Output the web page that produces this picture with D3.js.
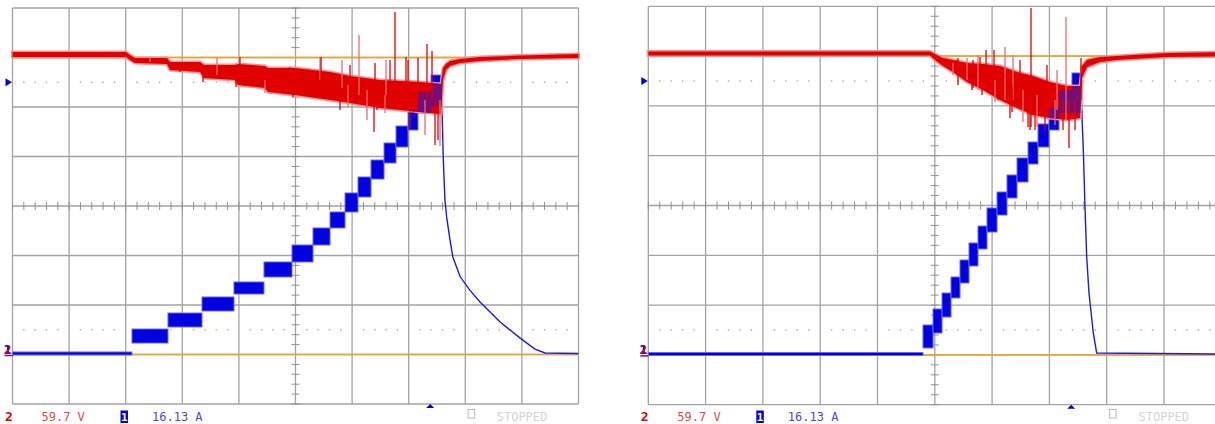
<!DOCTYPE html>
<html>
<head>
<meta charset="utf-8">
<script src="https://cdn.jsdelivr.net/npm/d3@7"></script>
<style>
  body { margin: 0; background: #fff; }
  svg { display: block; }
</style>
</head>
<body>
<div id="scope"></div>
<script>
// all values in screen divisions: x 0..10, y -4..4 (0 = centre line)

// ---- left capture ----
// channel 2 (voltage) noise band
const leftRedX  = [0, 2.005, 2.076, 2.164, 2.730, 2.783, 3.313, 3.383, 3.931, 3.984, 4.461, 4.514, 4.991, 5.610, 5.963, 6.493, 7.200, 7.571, 7.606, 7.659, 7.730, 7.906, 8.260, 8.966, 10];
const leftRedHi = [3.111, 3.111, 3.051, 2.990, 2.990, 2.909, 2.909, 2.848, 2.848, 2.869, 2.828, 2.788, 2.788, 2.707, 2.626, 2.545, 2.505, 2.465, 2.788, 2.869, 2.929, 2.970, 3.010, 3.040, 3.071];
const leftRedLo = [3.010, 3.010, 2.949, 2.889, 2.869, 2.747, 2.707, 2.586, 2.545, 2.444, 2.384, 2.303, 2.242, 2.141, 2.081, 1.980, 1.899, 1.859, 2.545, 2.747, 2.828, 2.889, 2.929, 2.970, 2.990];
// spikes on the voltage trace
const leftSpikeX  = [6.758, 6.122, 7.323, 7.412, 5.433, 4.019, 5.963, 6.599, 7.164, 6.387, 6.263, 7.465, 7.518, 7.553, 3.366, 3.949, 4.461, 4.956, 7.023, 7.288, 5.786,
                     5.451, 5.822, 6.405, 6.952, 5.928, 6.440, 7.076, 6.581, 6.670, 6.988, 3.613, 4.903, 2.959, 2.429];
const leftSpikeHi = [3.919, 3.455, 3.273, 3.131, 3.010, 3.010, 2.848, 2.949, 2.990, 2.444, 2.343, 2.141, 2.141, 2.141, 2.747, 2.646, 2.545, 2.444, 2.141, 2.141, 2.343,
                     3.010, 2.949, 2.889, 3.010, 2.444, 2.343, 2.242, 2.242, 2.949, 2.949, 2.990, 2.808, 2.909, 3.010];
const leftSpikeLo = [2.141, 2.242, 2.141, 2.141, 2.545, 2.707, 2.343, 2.242, 2.141, 1.495, 1.737, 1.232, 1.333, 1.212, 2.505, 2.404, 2.283, 2.202, 1.535, 1.434, 1.939,
                     2.444, 2.384, 2.242, 2.141, 2.000, 1.939, 1.879, 1.879, 2.242, 2.141, 2.646, 2.343, 2.707, 2.909];
// channel 1 (current) staircase
const leftStepX0 = [0, 2.111, 2.747, 3.348, 3.913, 4.443, 4.938, 5.309, 5.610, 5.875, 6.104, 6.334, 6.564, 6.776, 6.988, 7.164, 7.394];
const leftStepX1 = [2.111, 2.747, 3.348, 3.913, 4.443, 4.938, 5.309, 5.610, 5.875, 6.104, 6.334, 6.564, 6.776, 6.988, 7.164, 7.394, 7.588];
const leftStepLo = [-3.010, -2.768, -2.444, -2.121, -1.778, -1.434, -1.131, -0.788, -0.444, -0.121, 0.182, 0.545, 0.869, 1.192, 1.535, 1.879, 2.000];
const leftStepHi = [-2.949, -2.485, -2.162, -1.838, -1.535, -1.131, -0.788, -0.444, -0.121, 0.263, 0.586, 0.929, 1.273, 1.616, 1.939, 2.303, 2.646];
// current decay after switch-off
const leftTailX = [7.588, 7.61, 7.64, 7.67, 7.73, 7.78, 7.91, 8.08, 8.26, 8.61, 8.97, 9.23, 9.41, 10];
const leftTailY = [2.00, 0.99, 0.12, -0.22, -0.69, -1.03, -1.43, -1.70, -1.94, -2.34, -2.67, -2.89, -2.97, -2.98];

// ---- right capture ----
const rightRedX  = [0, 4.916, 5.003, 5.143, 5.318, 5.562, 5.841, 6.138, 6.435, 6.714, 7.010, 7.307, 7.534, 7.569, 7.656, 7.883, 8.180, 8.459, 9.052, 10];
const rightRedHi = [3.092, 3.092, 3.042, 2.962, 2.922, 2.861, 2.841, 2.801, 2.681, 2.600, 2.480, 2.400, 2.400, 2.801, 2.922, 2.982, 3.002, 3.022, 3.062, 3.082];
const rightRedLo = [3.012, 3.012, 2.922, 2.801, 2.681, 2.480, 2.319, 2.118, 1.958, 1.817, 1.757, 1.717, 1.757, 2.560, 2.781, 2.882, 2.922, 2.942, 2.982, 2.992];
const rightSpikeX  = [6.679, 7.290, 5.894, 6.033, 6.225, 5.789, 7.551, 5.562, 5.387, 7.342, 6.539, 6.749, 6.923, 7.098, 7.447, 6.312,
                      6.365, 6.487, 6.958, 7.133, 6.103, 6.627, 6.783, 7.237, 6.661, 5.318, 5.405, 5.667, 5.754, 5.649, 5.824, 6.051, 6.347];
const rightSpikeHi = [3.966, 3.785, 3.122, 3.122, 3.183, 2.982, 2.962, 2.962, 2.922, 2.118, 2.319, 2.219, 2.219, 2.118, 2.118, 2.420,
                      3.022, 2.922, 2.821, 2.721, 2.620, 2.219, 2.219, 2.118, 2.219, 2.861, 2.962, 2.922, 3.022, 2.721, 2.620, 2.520, 2.420];
const rightSpikeLo = [1.576, 1.717, 2.319, 2.219, 2.118, 2.420, 2.118, 2.520, 2.621, 1.155, 1.677, 1.516, 1.516, 1.616, 1.516, 1.757,
                      2.118, 2.118, 1.918, 1.918, 2.118, 1.576, 1.576, 1.516, 1.516, 2.621, 2.420, 2.359, 2.319, 2.319, 2.219, 2.078, 1.878];
const rightStepX0 = [0, 4.794, 4.969, 5.126, 5.283, 5.440, 5.597, 5.754, 5.911, 6.086, 6.260, 6.435, 6.627, 6.801, 6.993, 7.168, 7.394];
const rightStepX1 = [4.794, 4.969, 5.126, 5.283, 5.440, 5.597, 5.754, 5.911, 6.086, 6.260, 6.435, 6.627, 6.801, 6.993, 7.168, 7.394, 7.569];
const rightStepLo = [-3.012, -2.861, -2.560, -2.239, -1.857, -1.556, -1.215, -0.873, -0.532, -0.191, 0.151, 0.472, 0.833, 1.175, 1.516, 1.857, 1.857];
const rightStepHi = [-2.952, -2.400, -2.078, -1.757, -1.436, -1.094, -0.753, -0.412, -0.050, 0.271, 0.612, 0.954, 1.275, 1.637, 1.958, 2.319, 2.661];
const rightTailX = [7.564, 7.592, 7.621, 7.651, 7.691, 7.766, 7.825, 10];
const rightTailY = [1.918, 1.114, -0.030, -1.034, -1.757, -2.560, -2.962, -2.982];

// readouts / markers
const ch2Label = "2", ch2Scale = "59.7 V";
const ch1Label = "1", ch1Scale = "16.13 A";
const statusText = "STOPPED";
const refLevels = [3, -3];      // orange reference lines
const dottedLevels = [2.5, -2.5];
const ch1MarkerLevel = 2.5;
const groundLevel = -3;
const triggerPos = 7.38;

const W = 1215, H = 424;
const RED = "#e00000", BLUE = "#0000e0";
const mono = "'DejaVu Sans Mono', 'Liberation Mono', monospace";

const svg = d3.select("#scope").append("svg")
    .attr("width", W)
    .attr("height", H);

const panels = [
  { x0: 12.5, x1: 578.5, y0: 8, y1: 404,
    redX: leftRedX, redHi: leftRedHi, redLo: leftRedLo,
    spX: leftSpikeX, spHi: leftSpikeHi, spLo: leftSpikeLo,
    stX0: leftStepX0, stX1: leftStepX1, stLo: leftStepLo, stHi: leftStepHi,
    tailX: leftTailX, tailY: leftTailY },
  { x0: 648.3, x1: 1221.3, y0: 6.3, y1: 404.7,
    redX: rightRedX, redHi: rightRedHi, redLo: rightRedLo,
    spX: rightSpikeX, spHi: rightSpikeHi, spLo: rightSpikeLo,
    stX0: rightStepX0, stX1: rightStepX1, stLo: rightStepLo, stHi: rightStepHi,
    tailX: rightTailX, tailY: rightTailY }
];

panels.forEach(function(p, pi) {
  const x = d3.scaleLinear().domain([0, 10]).range([p.x0, p.x1]);
  const y = d3.scaleLinear().domain([-4, 4]).range([p.y1, p.y0]);
  const g = svg.append("g");

  // grid
  g.selectAll(".vg").data(d3.range(0, 11)).enter().append("line")
      .attr("x1", d => x(d)).attr("x2", d => x(d))
      .attr("y1", y(4)).attr("y2", y(-4))
      .style("stroke", "#a2a2a2").style("stroke-width", 1.3);
  g.selectAll(".hg").data(d3.range(-4, 5)).enter().append("line")
      .attr("x1", x(0)).attr("x2", x(10))
      .attr("y1", d => y(d)).attr("y2", d => y(d))
      .style("stroke", "#a2a2a2").style("stroke-width", 1.3);

  // dotted lines (4 dots per division)
  const dotXs = d3.range(0, 50).filter(i => i % 5 !== 0).map(i => i / 5);
  dottedLevels.forEach(function(lv) {
    g.selectAll(null).data(dotXs).enter().append("rect")
        .attr("x", d => x(d) - 0.7).attr("y", y(lv) - 0.7)
        .attr("width", 1.4).attr("height", 1.4)
        .style("fill", "#a8a8a8");
  });

  // centre ticks
  g.selectAll(null).data(d3.range(-20, 21).map(i => i / 5)).enter().append("line")
      .attr("x1", x(5) - 4).attr("x2", x(5) + 4)
      .attr("y1", d => y(d)).attr("y2", d => y(d))
      .style("stroke", "#909090").style("stroke-width", 1);
  g.selectAll(null).data(d3.range(0, 51).map(i => i / 5)).enter().append("line")
      .attr("x1", d => x(d)).attr("x2", d => x(d))
      .attr("y1", y(0) - 4).attr("y2", y(0) + 4)
      .style("stroke", "#909090").style("stroke-width", 1);

  // orange reference levels
  g.selectAll(null).data(refLevels).enter().append("line")
      .attr("x1", x(0)).attr("x2", x(10))
      .attr("y1", d => y(d)).attr("y2", d => y(d))
      .style("stroke", "#f2a21e").style("stroke-width", 1.5);

  // current staircase
  const idx = d3.range(p.stX0.length);
  g.selectAll(null).data(idx).enter().append("rect")
      .attr("x", i => x(p.stX0[i]))
      .attr("y", i => y(p.stHi[i]))
      .attr("width", i => x(p.stX1[i]) - x(p.stX0[i]))
      .attr("height", i => y(p.stLo[i]) - y(p.stHi[i]))
      .style("fill", BLUE)
      .style("stroke", "#6868f0").style("stroke-width", 1);

  g.append("path")
      .datum(d3.range(p.tailX.length))
      .attr("d", d3.line().x(i => x(p.tailX[i])).y(i => y(p.tailY[i])))
      .style("fill", "none").style("stroke", "#1a1ae6").style("stroke-width", 1.4);

  // voltage noise band
  const band = d3.area()
      .x(i => x(p.redX[i]))
      .y0(i => y(p.redLo[i]))
      .y1(i => y(p.redHi[i]));
  const ri = d3.range(p.redX.length);
  g.append("path").datum(ri).attr("d", band)
      .style("fill", "none").style("stroke", "#f29090").style("stroke-width", 3);
  g.append("path").datum(ri).attr("d", band)
      .style("fill", RED);

  // purple where both traces overlap
  const clipId = "band" + pi;
  g.append("clipPath").attr("id", clipId)
    .append("path").datum(ri).attr("d", band);
  g.append("g").attr("clip-path", "url(#" + clipId + ")")
    .selectAll(null).data(idx).enter().append("rect")
      .attr("x", i => x(p.stX0[i]))
      .attr("y", i => y(p.stHi[i]))
      .attr("width", i => x(p.stX1[i]) - x(p.stX0[i]))
      .attr("height", i => y(p.stLo[i]) - y(p.stHi[i]))
      .style("fill", "#760e78");

  // spikes
  g.selectAll(null).data(d3.range(p.spX.length)).enter().append("line")
      .attr("x1", i => x(p.spX[i])).attr("x2", i => x(p.spX[i]))
      .attr("y1", i => y(p.spHi[i])).attr("y2", i => y(p.spLo[i]))
      .style("stroke", (d, i) => i % 3 === 1 ? "#ee6a6a" : RED)
      .style("stroke-width", 1.3);

  // ch1 offset marker (left edge)
  const my = y(ch1MarkerLevel);
  g.append("path")
      .attr("d", `M${p.x0 - 7},${my - 4}L${p.x0 - 0.5},${my}L${p.x0 - 7},${my + 4}Z`)
      .style("fill", BLUE);

  // ground marker "2" / "1"
  const gy = y(groundLevel);
  g.append("text").attr("x", p.x0 - 1).attr("y", gy - 1)
      .attr("text-anchor", "end")
      .style("font-family", mono).style("font-size", "13px").style("font-weight", "bold")
      .style("fill", BLUE).text(ch1Label);
  g.append("text").attr("x", p.x0 - 1).attr("y", gy - 1)
      .attr("text-anchor", "end")
      .style("font-family", mono).style("font-size", "13px").style("font-weight", "bold")
      .style("fill", "#b00030").style("opacity", 0.85).text(ch2Label);
  g.append("line").attr("x1", p.x0 - 8).attr("x2", p.x0).attr("y1", gy + 1).attr("y2", gy + 1)
      .style("stroke", "#7a1070").style("stroke-width", 1.5);

  // trigger marker
  const tx = x(triggerPos);
  g.append("path")
      .attr("d", `M${tx - 4},${p.y1 + 4}L${tx + 4},${p.y1 + 4}L${tx},${p.y1}Z`)
      .style("fill", BLUE);

  // readout line
  const ty = 421;
  g.append("text").attr("x", p.x0 - 7.5).attr("y", ty)
      .style("font-family", mono).style("font-size", "13px").style("font-weight", "bold")
      .style("fill", RED).text(ch2Label);
  g.append("text").attr("x", p.x0 + 29).attr("y", ty)
      .style("font-family", mono).style("font-size", "12px")
      .style("fill", "#e24848").text(ch2Scale);
  g.append("rect").attr("x", p.x0 + 108).attr("y", 410.5).attr("width", 7.5).attr("height", 12.5)
      .style("fill", BLUE);
  g.append("text").attr("x", p.x0 + 111.8).attr("y", 421)
      .attr("text-anchor", "middle")
      .style("font-family", mono).style("font-size", "11px").style("font-weight", "bold")
      .style("fill", "#fff").text(ch1Label);
  g.append("text").attr("x", p.x0 + 139.5).attr("y", ty)
      .style("font-family", mono).style("font-size", "12px")
      .style("fill", "#4848e0").text(ch1Scale);
  g.append("rect").attr("x", x(8.05)).attr("y", 409.5).attr("width", 6.5).attr("height", 8.5)
      .style("fill", "none").style("stroke", "#b8b8b8").style("stroke-width", 1);
  g.append("text").attr("x", x(8.555)).attr("y", ty)
      .style("font-family", mono).style("font-size", "12px")
      .style("fill", "#d4d4d4").text(statusText);
});
</script>
</body>
</html>
